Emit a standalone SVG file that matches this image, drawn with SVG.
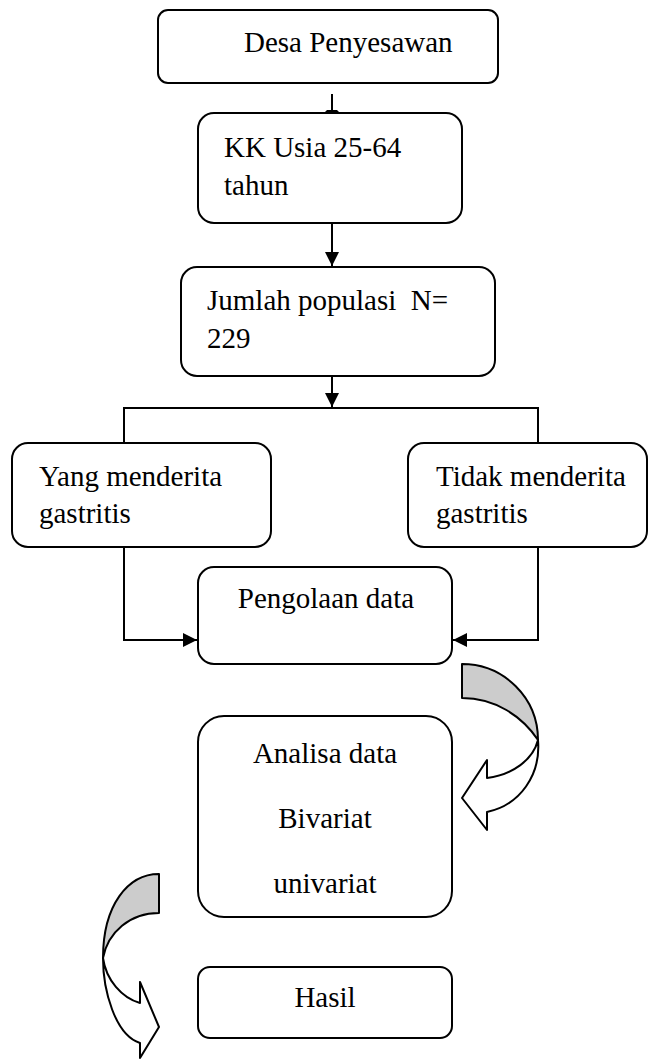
<svg xmlns="http://www.w3.org/2000/svg" width="648" height="1059" viewBox="0 0 648 1059">
<style>
.box{fill:#fff;stroke:#000;stroke-width:2}
text{font-family:'Liberation Serif','Times New Roman','DejaVu Serif',serif;font-size:29px;fill:#000}
.c{text-anchor:middle}
.ln{fill:none;stroke:#000;stroke-width:2}
.gray{fill:#cccccc;stroke:#000;stroke-width:2;stroke-linejoin:round}
.wh{fill:#fff;stroke:#000;stroke-width:2;stroke-linejoin:round}
</style>
<defs>
<marker id="ah" viewBox="0 0 10 10" refX="10" refY="5" markerWidth="7" markerHeight="7" markerUnits="strokeWidth" orient="auto">
<path d="M0,0 L10,5 L0,10 Z" fill="#000"/>
</marker>
</defs>
<rect width="648" height="1059" fill="#fff"/>
<g id="connectors">
<line class="ln" x1="332" y1="94" x2="332" y2="111"/>
<polygon points="324,113 340,113 337,110 327,110" fill="#000"/>
<line class="ln" x1="332" y1="223" x2="332" y2="266" marker-end="url(#ah)"/>
<line class="ln" x1="332" y1="363" x2="332" y2="407" marker-end="url(#ah)"/>
<polyline class="ln" points="124,443 124,408 538,408 538,443"/>
<polyline class="ln" points="124,548 124,640 197,640" marker-end="url(#ah)"/>
<polyline class="ln" points="538,548 538,640 453,640" marker-end="url(#ah)"/>
</g>
<g id="node-desa">
<rect class="box" x="158" y="10" width="340" height="73" rx="10"/>
<text x="244" y="52">Desa Penyesawan</text>
</g>
<g id="node-kk">
<rect class="box" x="198" y="113" width="264" height="110" rx="16"/>
<text x="224" y="157">KK Usia 25-64</text>
<text x="224" y="195">tahun</text>
</g>
<g id="node-jumlah">
<rect class="box" x="181" y="267" width="314" height="109" rx="16"/>
<text x="207" y="310" xml:space="preserve">Jumlah populasi  N=</text>
<text x="207" y="348">229</text>
</g>
<g id="node-yang">
<rect class="box" x="12" y="443" width="259" height="104" rx="16"/>
<text x="39" y="486">Yang menderita</text>
<text x="39" y="523">gastritis</text>
</g>
<g id="node-tidak">
<rect class="box" x="408" y="443" width="239" height="104" rx="16"/>
<text x="436" y="486">Tidak menderita</text>
<text x="436" y="523">gastritis</text>
</g>
<g id="node-pengolaan">
<rect class="box" x="198" y="567" width="254" height="97" rx="16"/>
<text class="c" x="326" y="608">Pengolaan data</text>
</g>
<g id="curved-arrow-1">
<path class="gray" d="M462,664 C504,664 538,698 538,740 C522,716 495,698 462,698 Z"/>
<path class="wh" d="M538,740 C541,775 520,805 487,812 L487,830 L462,798 L487,760 L487,778 C512,775 533,760 538,740 Z"/>
</g>
<g id="node-analisa">
<rect class="box" x="198" y="716" width="254" height="201" rx="26"/>
<text class="c" x="325" y="763">Analisa data</text>
<text class="c" x="325" y="828">Bivariat</text>
<text class="c" x="325" y="893">univariat</text>
</g>
<g id="curved-arrow-2">
<path class="gray" d="M159,874 C128,874 103,905 103,958 C108,932 130,913 159,913 Z"/>
<path class="wh" d="M103,958 C103,990 115,1035 140,1043 L140,1058 L159,1027 L140,982 L140,1003 C122,998 106,980 103,958 Z"/>
</g>
<g id="node-hasil">
<rect class="box" x="198" y="967" width="254" height="71" rx="12"/>
<text class="c" x="325" y="1007">Hasil</text>
</g>
</svg>
